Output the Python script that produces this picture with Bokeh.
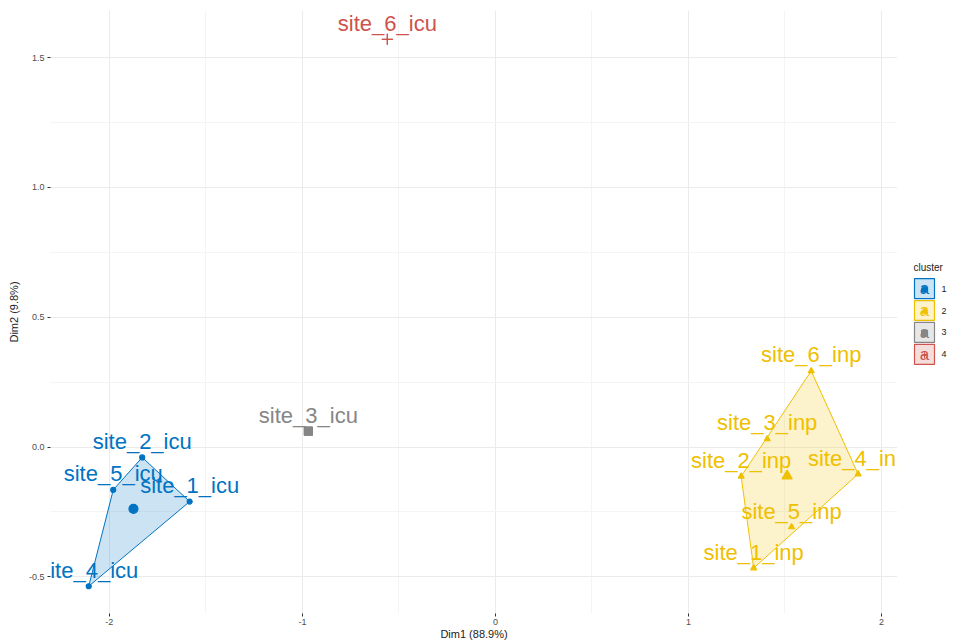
import numpy as np
from bokeh.plotting import figure
from bokeh.layouts import row
from bokeh.models import Range1d, FixedTicker, PrintfTickFormatter, ColumnDataSource
from bokeh.embed import file_html
from bokeh.resources import INLINE
from bokeh.core.properties import value

# ---- data ----
sites = ["site_1_icu", "site_2_icu", "site_4_icu", "site_5_icu",
         "site_1_inp", "site_2_inp", "site_3_inp", "site_4_inp", "site_5_inp", "site_6_inp",
         "site_3_icu", "site_6_icu"]
dim1 = [-1.584, -1.830, -2.107, -1.980,
        1.338, 1.273, 1.408, 1.879, 1.534, 1.636,
        -0.969, -0.560]
dim2 = [-0.210, -0.040, -0.536, -0.165,
        -0.466, -0.113, 0.031, -0.104, -0.308, 0.293,
        0.061, 1.570]
cluster = ["1", "1", "1", "1",
           "2", "2", "2", "2", "2", "2",
           "3", "4"]
cluster_levels = ["1", "2", "3", "4"]
x_ticks = [-2, -1, 0, 1, 2]
y_ticks = [-0.5, 0.0, 0.5, 1.0, 1.5]

palette = ["#0073C2", "#EFC000", "#868686", "#CD534C"]
markers = ["circle", "triangle", "square", "cross"]
pt_size = [5, 6, 8, 11]
cen_size = [9, 10, 8, 11]
FONT = "Liberation Sans"

# frame geometry (page pixels)
FR_TOP, FR_BOTTOM, FR_LEFT, FR_RIGHT = 10, 615, 50, 897
PAGE_W, PAGE_H = 960, 642


def convex_hull(pts):
    pts = sorted(set(pts))
    if len(pts) < 3:
        return pts

    def cross(o, a, b):
        return (a[0] - o[0]) * (b[1] - o[1]) - (a[1] - o[1]) * (b[0] - o[0])
    lower, upper = [], []
    for q in pts:
        while len(lower) >= 2 and cross(lower[-2], lower[-1], q) <= 0:
            lower.pop()
        lower.append(q)
    for q in reversed(pts):
        while len(upper) >= 2 and cross(upper[-2], upper[-1], q) <= 0:
            upper.pop()
        upper.append(q)
    return lower[:-1] + upper[:-1]


p = figure(width=FR_RIGHT, height=PAGE_H,
           x_range=Range1d(-2.305, 2.083), y_range=Range1d(-0.641, 1.681),
           toolbar_location=None, output_backend="svg",
           x_axis_label="Dim1 (88.9%)", y_axis_label="Dim2 (9.8%)")
p.min_border_left = FR_LEFT
p.min_border_right = 0
p.min_border_top = FR_TOP
p.min_border_bottom = PAGE_H - FR_BOTTOM
p.outline_line_color = None
p.background_fill_color = "white"
p.border_fill_color = "white"

p.xaxis.ticker = FixedTicker(ticks=x_ticks, minor_ticks=[-1.5, -0.5, 0.5, 1.5])
p.yaxis.ticker = FixedTicker(ticks=y_ticks, minor_ticks=[-0.25, 0.25, 0.75, 1.25])
p.xaxis.formatter = PrintfTickFormatter(format="%d")
p.yaxis.formatter = PrintfTickFormatter(format="%.1f")
for ax in (p.xaxis[0], p.yaxis[0]):
    ax.axis_line_color = None
    ax.major_tick_line_color = "#333333"
    ax.major_tick_out = 3
    ax.major_tick_in = 0
    ax.minor_tick_line_color = None
    ax.major_label_text_font = FONT
    ax.major_label_text_font_size = "9px"
    ax.major_label_text_color = "#4D4D4D"
    ax.major_label_standoff = 2
    ax.axis_label_text_font = FONT
    ax.axis_label_text_font_size = "11px"
    ax.axis_label_text_font_style = "normal"
    ax.axis_label_text_color = "#222222"
p.xaxis.axis_label_standoff = 0
p.xaxis.major_label_standoff = 1
p.yaxis.axis_label_standoff = 6
p.grid.grid_line_color = "#EBEBEB"
p.grid.minor_grid_line_color = "#F4F4F4"

# hulls
for ci, lvl in enumerate(cluster_levels):
    pts = [(x, y) for x, y, c in zip(dim1, dim2, cluster) if c == lvl]
    if len(pts) >= 3:
        h = convex_hull(pts)
        p.patch([q[0] for q in h], [q[1] for q in h], fill_color=palette[ci],
                fill_alpha=0.2, line_color=palette[ci], line_width=1)

# points, centroids, labels
for ci, lvl in enumerate(cluster_levels):
    idx = [i for i, c in enumerate(cluster) if c == lvl]
    src = ColumnDataSource(dict(x=[dim1[i] for i in idx], y=[dim2[i] for i in idx],
                                name=[sites[i] for i in idx]))
    col = palette[ci]
    p.scatter("x", "y", source=src, marker=markers[ci], size=pt_size[ci],
              fill_color=col, line_color=col, line_width=1.2)
    cx = [float(np.mean([dim1[i] for i in idx]))]
    cy = [float(np.mean([dim2[i] for i in idx]))]
    p.scatter(cx, cy, marker=markers[ci], size=cen_size[ci],
              fill_color=col, line_color=col, line_width=1.2)
    p.text("x", "y", text="name", source=src, text_color=col,
           text_font=value(FONT), text_font_size="22px",
           text_align="center", text_baseline="alphabetic", y_offset=-16)

# legend as its own small figure; its frame is aligned with the main frame,
# so the ranges are expressed in page pixels
lg = figure(width=PAGE_W - FR_RIGHT, height=PAGE_H,
            x_range=Range1d(FR_RIGHT, PAGE_W), y_range=Range1d(FR_BOTTOM, FR_TOP),
            toolbar_location=None, output_backend="svg", min_border=0)
lg.min_border_top = FR_TOP
lg.min_border_bottom = PAGE_H - FR_BOTTOM
lg.axis.visible = False
lg.grid.visible = False
lg.outline_line_color = None
lg.text([913], [268], text=["cluster"], text_font=value(FONT), text_font_size="10px",
        text_color="#222222", text_baseline="middle", text_align="left")
key_y = [289 + 22 * i for i in range(len(cluster_levels))]
key_x = [924] * len(cluster_levels)
lg.rect(key_x, key_y, width=20, height=20, fill_color=palette, fill_alpha=0.2,
        line_color=palette, line_width=1.2)
lg.text(key_x, key_y, text=["a"] * 4, text_color=palette, text_font=value(FONT),
        text_font_size="17px", text_align="center", text_baseline="middle")
for ci in range(len(cluster_levels)):
    lg.scatter([key_x[ci]], [key_y[ci] + 1], marker=markers[ci], size=6,
               fill_color=palette[ci], line_color=palette[ci])
lg.text([941] * 4, key_y, text=cluster_levels, text_font=value(FONT), text_font_size="9px",
        text_color="#222222", text_baseline="middle", text_align="left")

layout = row(p, lg, spacing=0)
open("out.html", "w").write(file_html(layout, INLINE))
